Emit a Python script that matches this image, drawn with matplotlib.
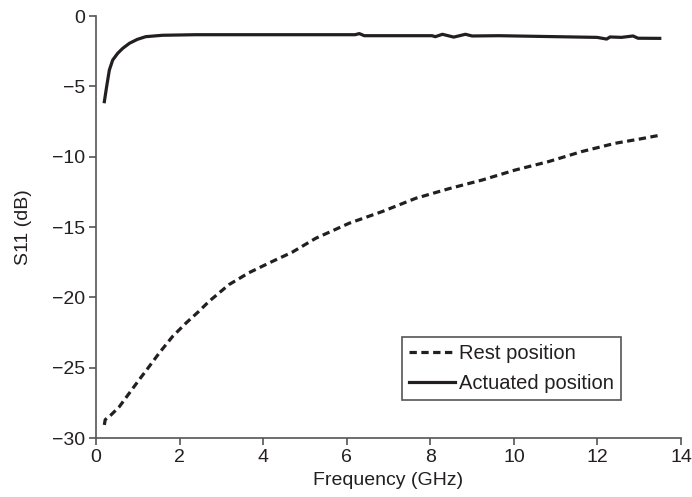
import matplotlib
matplotlib.use("Agg")
import matplotlib.pyplot as plt

plt.rcParams['font.family'] = ['Liberation Sans', 'DejaVu Sans']

# Rest position (dashed)
rest_freq = [0.2, 0.22, 0.36, 0.56, 0.80, 1.03, 1.27, 1.51, 1.83, 2.15, 2.46,
             2.70, 3.18, 3.66, 4.21, 4.69, 5.26, 6.06, 6.85, 7.65, 8.44, 9.24,
             10.03, 10.83, 11.62, 12.42, 13.0, 13.45]
rest_s11 = [-29.07, -28.7, -28.36, -27.77, -26.8, -25.87, -24.93, -23.97,
            -22.79, -21.84, -21.0, -20.3, -19.1, -18.25, -17.46, -16.8, -15.8,
            -14.73, -13.9, -12.96, -12.28, -11.66, -10.95, -10.35, -9.64,
            -9.05, -8.75, -8.5]

# Actuated position (solid)
act_freq = [0.2, 0.255, 0.32, 0.40, 0.52, 0.64, 0.80, 0.99, 1.19, 1.59, 2.38,
            4.77, 6.2, 6.3, 6.42, 8.04, 8.12, 8.29, 8.56, 8.84, 9.0, 9.64,
            10.43, 11.99, 12.22, 12.3, 12.57, 12.85, 12.97, 13.49]
act_s11 = [-6.09, -5.02, -3.84, -3.13, -2.65, -2.30, -1.94, -1.66, -1.47,
           -1.37, -1.33, -1.33, -1.33, -1.25, -1.40, -1.40, -1.47, -1.30,
           -1.50, -1.30, -1.42, -1.40, -1.44, -1.52, -1.64, -1.49, -1.52,
           -1.42, -1.58, -1.59]

x_ticks = [0, 2, 4, 6, 8, 10, 12, 14]
y_ticks = [0, -5, -10, -15, -20, -25, -30]

ink = '#231f20'
axis_gray = '#555555'

fig = plt.figure(figsize=(6.92, 4.97), dpi=100)
ax = fig.add_axes([0.1387, 0.1187, 0.8455, 0.8491])

ax.plot(rest_freq, rest_s11, color=ink, lw=2.3, linestyle=(0, (2.3, 1.4)),
        dash_capstyle='butt', label='Rest position')
ax.plot(act_freq, act_s11, color=ink, lw=2.3, solid_joinstyle='round',
        label='Actuated position')

ax.set_xlim(0, 14)
ax.set_ylim(-30, 0)
ax.set_xticks(x_ticks)
ax.set_yticks(y_ticks)
ax.set_yticklabels(['0', '\u22125', '\u221210', '\u221215', '\u221220', '\u221225', '\u221230'])

for side in ('top', 'right'):
    ax.spines[side].set_visible(False)
for side in ('left', 'bottom'):
    ax.spines[side].set_color(axis_gray)
    ax.spines[side].set_linewidth(1.2)
ax.tick_params(direction='out', length=5, width=1.2, color=axis_gray,
               labelsize=14, labelcolor=ink, pad=3)

ax.set_xlabel('Frequency (GHz)', fontsize=14, color=ink, labelpad=4)
ax.set_ylabel('S11 (dB)', fontsize=14, color=ink, labelpad=14)

leg = ax.legend(loc='lower right', bbox_to_anchor=(0.898, 0.09),
                fontsize=14.5, frameon=True, fancybox=False, framealpha=1,
                edgecolor=axis_gray, handlelength=2.3, handletextpad=0.2,
                borderpad=0.35, labelspacing=0.55, borderaxespad=0)
leg.get_frame().set_linewidth(1.2)
for t in leg.get_texts():
    t.set_color(ink)

fig.savefig('out.png', dpi=100)
